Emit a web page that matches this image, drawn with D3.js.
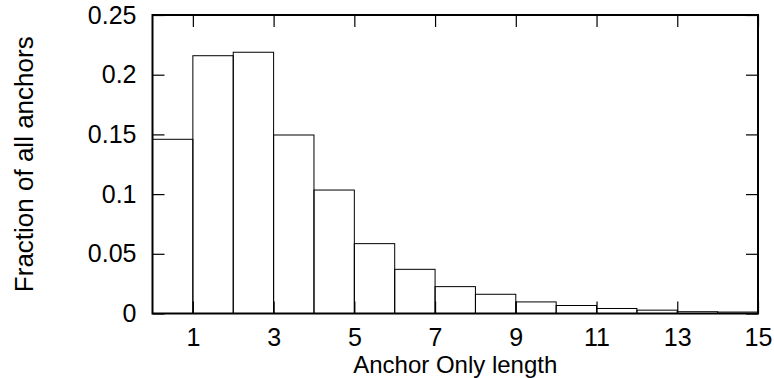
<!DOCTYPE html>
<html>
<head>
<meta charset="utf-8">
<script src="https://cdn.jsdelivr.net/npm/d3@7"></script>
<style>
  body { margin: 0; background: #fff; }
  svg { display: block; }
  text { font-family: "Liberation Sans", Arial, Helvetica, sans-serif; }
</style>
</head>
<body>
<div id="chart"></div>
<script>
// anchor-only length bins (1..15) and the fraction of anchors in each
const lengths = [1, 2, 3, 4, 5, 6, 7, 8, 9, 10, 11, 12, 13, 14, 15];
const fractions = [0.1459, 0.2159, 0.2188, 0.1495, 0.1034, 0.0585, 0.0370, 0.0225,
                   0.0161, 0.0097, 0.0067, 0.0042, 0.0028, 0.0015, 0.0012];
const xTicks = [1, 3, 5, 7, 9, 11, 13, 15];
const yTicks = [0, 0.05, 0.1, 0.15, 0.2, 0.25];

const width = 774, height = 378;
const margin = { top: 15, right: 16, bottom: 64.5, left: 152.5 };
const fontSize = 25;

const svg = d3.select('#chart')
  .append('svg')
  .attr('width', width)
  .attr('height', height);

const innerW = width - margin.left - margin.right;
const innerH = height - margin.top - margin.bottom;

const g = svg.append('g')
  .attr('transform', `translate(${margin.left},${margin.top})`);

const x = d3.scaleLinear().domain([0, 15]).range([0, innerW]);
const y = d3.scaleLinear().domain([0, 0.25]).range([innerH, 0]);

// bars: bin n covers [n-1, n]
g.selectAll('rect.bar')
  .data(lengths)
  .enter()
  .append('rect')
  .attr('class', 'bar')
  .attr('x', d => x(d - 1))
  .attr('width', d => x(d) - x(d - 1))
  .attr('y', (d, i) => y(fractions[i]))
  .attr('height', (d, i) => y(0) - y(fractions[i]))
  .attr('fill', 'none')
  .attr('stroke', '#000')
  .attr('stroke-width', 1);

// axes with inward ticks (gnuplot style), mirrored on top/right
const styleAxis = sel => {
  sel.select('.domain').remove();
  sel.selectAll('line').attr('stroke', '#000').attr('stroke-width', 1.2);
  sel.selectAll('text')
    .attr('fill', '#000')
    .style('font-size', fontSize + 'px');
};

g.append('g')
  .attr('transform', `translate(0,${innerH})`)
  .call(d3.axisBottom(x).tickValues(xTicks).tickSize(-12).tickPadding(14.5).tickFormat(d3.format('d')))
  .call(styleAxis);

g.append('g')
  .call(d3.axisTop(x).tickValues(xTicks).tickSize(-12).tickFormat(''))
  .call(styleAxis);

g.append('g')
  .call(d3.axisLeft(y).tickValues(yTicks).tickSize(-12).tickPadding(16).tickFormat(d => d3.format('')(+d.toFixed(2))))
  .call(styleAxis);

g.append('g')
  .attr('transform', `translate(${innerW},0)`)
  .call(d3.axisRight(y).tickValues(yTicks).tickSize(-12).tickFormat(''))
  .call(styleAxis);

// frame
g.append('rect')
  .attr('width', innerW)
  .attr('height', innerH)
  .attr('fill', 'none')
  .attr('stroke', '#000')
  .attr('stroke-width', 2);

// axis titles
svg.append('text')
  .attr('x', margin.left + innerW / 2)
  .attr('y', 372.8)
  .attr('text-anchor', 'middle')
  .style('font-size', '24px')
  .text('Anchor Only length');

svg.append('text')
  .attr('transform', `translate(32.5,${margin.top + innerH / 2}) rotate(-90)`)
  .attr('text-anchor', 'middle')
  .style('font-size', '26px')
  .text('Fraction of all anchors');
</script>
</body>
</html>
